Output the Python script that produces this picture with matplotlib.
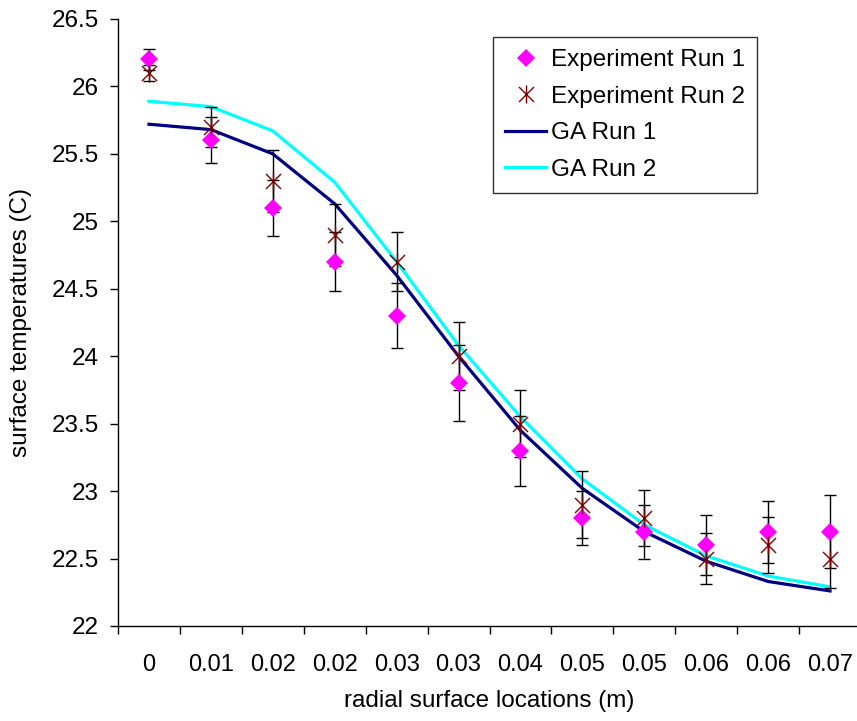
import matplotlib
matplotlib.use("Agg")
import matplotlib.pyplot as plt
import numpy as np
from matplotlib.path import Path

plt.rcParams['font.family'] = ['Liberation Sans', 'DejaVu Sans']

categories = ["0", "0.01", "0.02", "0.02", "0.03", "0.03", "0.04", "0.05", "0.05", "0.06", "0.06", "0.07"]
exp_run1 = [26.2, 25.6, 25.1, 24.7, 24.3, 23.8, 23.3, 22.8, 22.7, 22.6, 22.7, 22.7]
exp_run1_err = [0.08, 0.17, 0.21, 0.22, 0.24, 0.28, 0.26, 0.20, 0.20, 0.22, 0.23, 0.27]
exp_run2 = [26.1, 25.7, 25.3, 24.9, 24.7, 24.0, 23.5, 22.9, 22.8, 22.5, 22.6, 22.5]
exp_run2_err = [0.06, 0.15, 0.23, 0.23, 0.22, 0.25, 0.25, 0.25, 0.21, 0.19, 0.21, 0.22]
ga_run1 = [25.72, 25.68, 25.50, 25.13, 24.60, 24.00, 23.45, 23.02, 22.70, 22.48, 22.33, 22.26]
ga_run2 = [25.89, 25.85, 25.67, 25.29, 24.70, 24.08, 23.55, 23.09, 22.75, 22.52, 22.37, 22.29]

x = np.arange(len(categories))

fig = plt.figure(figsize=(8.57, 7.21), dpi=100)
ax = fig.add_axes([118/857, 95/721, 743/857, 607/721])

ax.plot(x, ga_run1, color='#000080', lw=2.3, zorder=3, label='GA Run 1')
ax.plot(x, ga_run2, color='#00FFFF', lw=2.3, zorder=3, label='GA Run 2')

ax.errorbar(x, exp_run1, yerr=exp_run1_err, fmt='none', ecolor='black', elinewidth=1.0,
            capsize=4.5, capthick=1.0, zorder=4)
ax.errorbar(x, exp_run2, yerr=exp_run2_err, fmt='none', ecolor='black', elinewidth=1.0,
            capsize=4.5, capthick=1.0, zorder=4)

star_path = Path([(-1, -1), (1, 1), (-1, 1), (1, -1), (0, -1.2), (0, 1.2)],
                 [Path.MOVETO, Path.LINETO, Path.MOVETO, Path.LINETO, Path.MOVETO, Path.LINETO])

h1, = ax.plot(x, exp_run1, linestyle='none', marker='D', markersize=9, color='#FF00FF',
              markeredgewidth=0, zorder=5, label='Experiment Run 1')
h2, = ax.plot(x, exp_run2, linestyle='none', marker=star_path, markersize=13, color='#800000',
              markeredgewidth=1.0, fillstyle='none', zorder=6, label='Experiment Run 2')

ax.set_xlim(-0.5, len(categories) - 0.5)
ax.set_ylim(22, 26.5)
ax.set_yticks(np.arange(22, 26.51, 0.5))
ax.set_yticklabels([f"{v:g}" for v in np.arange(22, 26.51, 0.5)], fontsize=17.5)
ax.set_xticks(x)
ax.set_xticklabels(categories, fontsize=17)
ax.set_xticks(np.arange(-0.5, len(categories), 1), minor=True)
ax.tick_params(axis='x', which='major', length=0, pad=20)
ax.tick_params(axis='x', which='minor', length=6, width=1, direction='out')
ax.tick_params(axis='y', length=6, width=1, direction='out', pad=8)

for s in ['top', 'right']:
    ax.spines[s].set_visible(False)
ax.spines['left'].set_linewidth(1)
ax.spines['bottom'].set_linewidth(1)

ax.set_xlabel('radial surface locations (m)', fontsize=17.5, labelpad=10)
ax.set_ylabel('surface temperatures (C)', fontsize=17.5, labelpad=14)

leg = ax.legend(handles=[h1, h2] + ax.lines[:2], labels=['Experiment Run 1', 'Experiment Run 2', 'GA Run 1', 'GA Run 2'],
                loc='upper left', bbox_to_anchor=(493/857, 1 - 37/721), bbox_transform=fig.transFigure,
                borderaxespad=0, fontsize=17.5, frameon=True, fancybox=False, edgecolor='black',
                handlelength=1.7, handletextpad=0.2, labelspacing=0.6, borderpad=0.5)
leg.get_frame().set_linewidth(1)

fig.savefig('out.png', dpi=100)
